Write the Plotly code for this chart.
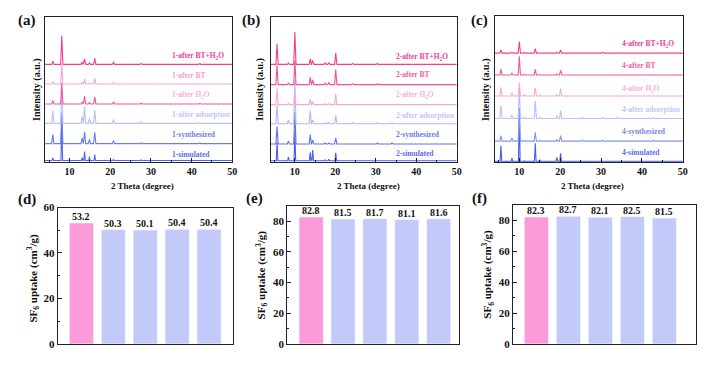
import plotly.graph_objects as go

W, H = 709, 368
SERIF = "Liberation Serif"

# ---------------- XRD data (peak positions in 2-theta, peak heights in a.u.) ----------------
A_PEAKS = [5.9, 8.1, 13.1, 13.7, 14.9, 16.2, 20.8, 27.6, 42.0]
A_SIM = [2.7, 45, 3, 9.3, 4, 6, 1, 0.5, 0.3]
A_SYN = [9.3, 32, 6, 12.3, 4.3, 11.7, 3, 1, 0.7]
A_ADS = [13.3, 37, 7.3, 17.3, 5, 14, 4, 1.5, 1]
A_H2O = [3.5, 22, 2, 8.3, 1.5, 7.3, 2, 0.8, 0.5]
A_BT = [2.5, 20, 1.5, 5, 1, 6, 1.5, 0.7, 0.5]
A_BTH2O = [3.3, 29.6, 2, 5.7, 1.5, 6.3, 2, 1, 0.7]
A_OFFSETS = [1.3, 18.7, 39.7, 59.7, 80.3, 100.7]

B_PEAKS = [5.6, 8.4, 10.0, 13.8, 14.4, 17.5, 18.4, 20.1, 24.3, 30.4, 34.0]
B_SIM = [19.3, 3.7, 30, 8.7, 11, 1, 1.5, 8.3, 0.5, 0.5, 0.3]
B_SYN = [18, 3, 33, 9.7, 4, 1, 1, 6.3, 0.7, 1, 1]
B_ADS = [19.3, 3.7, 45, 13.7, 4, 1, 1, 8.3, 1, 1, 1]
B_H2O = [16.7, 1.3, 12, 5.7, 3, 1, 1, 11.3, 0.7, 0.7, 0.5]
B_BT = [20, 1.5, 25, 7.7, 5, 1.5, 2, 15.7, 1, 1, 0.5]
B_BTH2O = [21.3, 1.3, 33.3, 5.7, 4, 1.5, 1.5, 11.7, 1, 1, 0.5]
B_OFFSETS = [1.0, 18.3, 39.3, 59.0, 79.7, 100.7]

C_PEAKS = [5.5, 8.2, 10.0, 11.2, 13.9, 15.0, 19.2, 20.1, 25.5, 30.4, 34.0, 42.8]
C_SIM = [16, 3.3, 55, 0.5, 18.7, 1.5, 4, 8.3, 0.5, 0.5, 0.3, 0.3]
C_SYN = [5.7, 3.3, 32, 0.7, 9, 0.7, 1.5, 5.7, 1, 1, 0.7, 1]
C_ADS = [13.3, 3.7, 32, 1, 18.3, 1, 3, 8.3, 1, 1, 1, 1]
C_H2O = [9, 3, 14, 1, 8.3, 0.7, 1, 7.7, 0.5, 0.7, 0.5, 0.5]
C_BT = [6, 2, 19.3, 0.7, 5.7, 0.5, 1, 5, 0.5, 0.5, 0.3, 0.3]
C_BTH2O = [3.3, 1, 12, 0.7, 4.7, 0.3, 1, 3.3, 0.3, 1, 0.3, 0.7]
C_OFFSETS = [1.0, 21.8, 45.2, 68.5, 90.2, 112.8]

SAMPLE_NAMES = ["simulated", "synthesized", "after adsorption",
                "after H<sub>2</sub>O", "after BT", "after BT+H<sub>2</sub>O"]

# ---------------- SF6 uptake data ----------------
CYCLES = [0, 1, 2, 3, 4]
D_UPTAKE = [53.2, 50.3, 50.1, 50.4, 50.4]
E_UPTAKE = [82.8, 81.5, 81.7, 81.1, 81.6]
F_UPTAKE = [82.3, 82.7, 82.1, 82.5, 81.5]
D_YTICKS = [0, 20, 40, 60]
EF_YTICKS = [0, 20, 40, 60, 80]

# ---------------- styles ----------------
A_LINE_COLORS = ["#5264f0", "#6a7cf2", "#b8c0f8", "#f2549b", "#f7a3d0", "#f2408f"]
A_TEXT_COLORS = ["#5a6cf0", "#7082f2", "#c0c8f8", "#f8b0d8", "#f5a0d0", "#f0409a"]
B_LINE_COLORS = ["#4a5cf0", "#6070f0", "#b0b8f8", "#f8a8d4", "#f2509a", "#f2408f"]
B_TEXT_COLORS = ["#5a6cf0", "#6a7af2", "#c0c8f8", "#f8b0d8", "#f260a6", "#f0409a"]
C_LINE_COLORS = ["#4a5cf0", "#8494f5", "#b8c0fa", "#f8a8d4", "#f2589f", "#f2408f"]
C_TEXT_COLORS = ["#5a6cf0", "#7888f2", "#c0c8f8", "#f8b0d8", "#f260a6", "#f0409a"]

A_LABEL_Y = [7.7, 27.7, 49.3, 68.7, 88.7, 109.3]
B_LABEL_Y = [8.3, 28.3, 47.7, 68.7, 90.0, 108.7]
C_LABEL_Y = [10.5, 32.2, 54.8, 75.8, 100.5, 122.5]

BAR_COLORS = ["#fb9ad8", "#c3c9f9", "#c3c9f9", "#c3c9f9", "#c3c9f9"]


def px(x):
    return x / W


def py(y):
    return 1 - y / H


def pattern(peaks, heights, offset, w):
    xs, ys = [4.0], [offset]
    for p, h in sorted(zip(peaks, heights)):
        xs += [p - w, p, p + w]
        ys += [offset, offset + h, offset]
    xs.append(50.0)
    ys.append(offset)
    return xs, ys


fig = go.Figure()

axis_line = dict(showline=True, linecolor="#222", linewidth=1.2, mirror=True,
                 showgrid=False, zeroline=False)

xrd_panels = [
    ("x", "y", A_PEAKS, [A_SIM, A_SYN, A_ADS, A_H2O, A_BT, A_BTH2O], A_OFFSETS,
     A_LINE_COLORS, A_TEXT_COLORS, A_LABEL_Y, "1"),
    ("x2", "y2", B_PEAKS, [B_SIM, B_SYN, B_ADS, B_H2O, B_BT, B_BTH2O], B_OFFSETS,
     B_LINE_COLORS, B_TEXT_COLORS, B_LABEL_Y, "2"),
    ("x3", "y3", C_PEAKS, [C_SIM, C_SYN, C_ADS, C_H2O, C_BT, C_BTH2O], C_OFFSETS,
     C_LINE_COLORS, C_TEXT_COLORS, C_LABEL_Y, "4"),
]

annotations = []
for xa, ya, peaks, series, offsets, lcols, tcols, labys, prefix in xrd_panels:
    for i, (hts, off) in enumerate(zip(series, offsets)):
        w = 0.2 if i == 0 else 0.28
        xs, ys = pattern(peaks, hts, off, w)
        fig.add_trace(go.Scatter(x=xs, y=ys, mode="lines", xaxis=xa, yaxis=ya,
                                 line=dict(color=lcols[i], width=1.1),
                                 showlegend=False, hoverinfo="skip"))
        annotations.append(dict(
            x=34.6, y=labys[i], xref=xa, yref=ya, xanchor="left", yanchor="middle",
            text=f"{prefix}-{SAMPLE_NAMES[i]}", showarrow=False,
            font=dict(family=SERIF, size=7.5, color=tcols[i], weight="bold")))

bar_panels = [("x4", "y4", D_UPTAKE), ("x5", "y5", E_UPTAKE), ("x6", "y6", F_UPTAKE)]
for xa, ya, vals in bar_panels:
    fig.add_trace(go.Bar(x=CYCLES, y=vals, width=0.76, xaxis=xa, yaxis=ya,
                         marker=dict(color=BAR_COLORS,
                                     line=dict(color="rgba(255,255,255,0.7)", width=0.8)),
                         showlegend=False, hoverinfo="skip"))
    for c, v in zip(CYCLES, vals):
        annotations.append(dict(
            x=c, y=v, xref=xa, yref=ya, xanchor="center", yanchor="bottom",
            text=f"{v:.1f}", showarrow=False, yshift=-1,
            font=dict(family=SERIF, size=10, color="#111", weight="bold")))

layout = dict(width=W, height=H, margin=dict(l=0, r=0, t=0, b=0),
              paper_bgcolor="white", plot_bgcolor="white", showlegend=False)

xrd_geom = [((45.4, 234), (11, 161), 150), ((272.5, 460), (11, 161), 150),
            ((498.3, 687.7), (10, 161.5), 151.5)]
for k, ((x0, x1), (yt, yb), yr) in enumerate(xrd_geom, start=1):
    sfx = "" if k == 1 else str(k)
    layout["xaxis" + sfx] = dict(domain=[px(x0), px(x1)], anchor="y" + sfx, range=[4, 50],
                                 tickmode="linear", tick0=0, dtick=10,
                                 ticks="inside", ticklen=4, tickwidth=1, tickcolor="#222",
                                 tickfont=dict(family=SERIF, size=10, color="#111", weight="bold"),
                                 minor=dict(tickmode="linear", tick0=0, dtick=5, ticks="inside",
                                            ticklen=2, tickcolor="#222"),
                                 **axis_line)
    layout["yaxis" + sfx] = dict(domain=[py(yb), py(yt)], anchor="x" + sfx, range=[0, yr],
                                 showticklabels=False, ticks="", **axis_line)

bar_geom = [((58.3, 234.3), (208.3, 349.3), [-0.74, 4.74], [0, 60], D_YTICKS),
            ((289.3, 462.3), (206.7, 349.3), [-0.75, 4.64], [0, 90], EF_YTICKS),
            ((516.7, 701), (205.7, 349.3), [-0.73, 4.99], [0, 90], EF_YTICKS)]
for k, ((x0, x1), (yt, yb), xr, yr, tvals) in enumerate(bar_geom, start=4):
    sfx = str(k)
    layout["xaxis" + sfx] = dict(domain=[px(x0), px(x1)], anchor="y" + sfx, range=xr,
                                 showticklabels=False, ticks="", **axis_line)
    layout["yaxis" + sfx] = dict(domain=[py(yb), py(yt)], anchor="x" + sfx, range=yr,
                                 tickvals=tvals, ticks="inside", ticklen=4, tickwidth=1,
                                 tickcolor="#222",
                                 tickfont=dict(family=SERIF, size=11, color="#111", weight="bold"),
                                 minor=dict(tickmode="linear", tick0=0, dtick=10, ticks="inside",
                                            ticklen=2, tickcolor="#222"),
                                 **axis_line)


def paper_text(x, y, text, size, angle=0):
    return dict(x=px(x), y=py(y), xref="paper", yref="paper", text=text, showarrow=False,
                xanchor="center", yanchor="middle", textangle=angle,
                font=dict(family=SERIF, size=size, color="#111", weight="bold"))


for lx, ly, t in [(26.7, 15, "(a)"), (252.3, 15, "(b)"), (483, 15, "(c)"),
                  (26.7, 200, "(d)"), (256.7, 199, "(e)"), (483.3, 199, "(f)")]:
    annotations.append(paper_text(lx, ly, t, 15))

for cx in [144, 370.8, 597]:
    annotations.append(paper_text(cx, 186, "2 Theta (degree)", 9))
for cx in [37, 262.3, 489.3]:
    annotations.append(paper_text(cx, 86, "Intensity (a.u.)", 10, -90))
for cx, cy in [(33, 281), (263.3, 278), (491.7, 277.5)]:
    annotations.append(paper_text(cx, cy, "SF<sub>6</sub> uptake (cm<sup>3</sup>/g)", 11, -90))

layout["annotations"] = annotations
fig.update_layout(**layout)
fig.write_html("out.html", config={"displayModeBar": False},
               post_script="document.body.style.margin='0';document.body.style.overflow='hidden';")
